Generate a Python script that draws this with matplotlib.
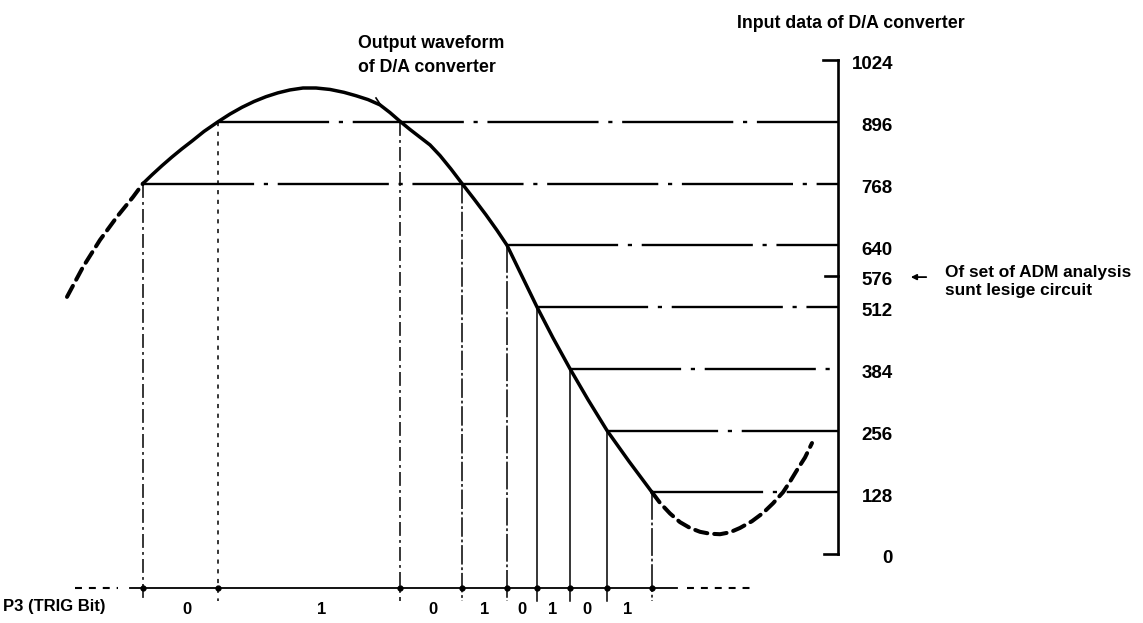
import numpy as np
import matplotlib.pyplot as plt

plt.rcParams['font.family'] = ['Liberation Sans', 'DejaVu Sans']
plt.rcParams['font.weight'] = 'bold'
plt.rcParams['lines.scale_dashes'] = False

# --- data (time in arbitrary units, D/A input value 0..1024) ---
# solid output waveform of the D/A converter
curve_t = [143, 152, 162, 172, 182, 192, 204, 218, 230, 242, 254, 266, 278, 290,
           303, 316, 330, 344, 356, 368, 380, 390, 400, 410, 420, 430, 440,
           451, 462, 474, 486, 497, 507, 522, 537, 553, 570, 588, 607, 629, 652]
curve_v = [768, 786, 805, 823, 840, 856, 876, 896, 912, 926, 938, 948, 956, 962,
           966, 966, 963, 957, 950, 942, 931, 915, 897, 880, 864, 848, 826,
           798, 768, 736, 703, 671, 640, 576, 512, 448, 384, 320, 256, 192, 128]
# dashed continuation before and after
lead_t = [67, 83, 100, 117, 133, 143]
lead_v = [533, 595, 651, 699, 740, 768]
tail_t = [652, 660, 670, 680, 690, 700, 710, 720, 730, 740, 752, 763, 773, 783, 790, 797, 805, 812]
tail_v = [128, 106, 84, 66, 54, 46, 42, 41, 45, 54, 68, 85, 105, 128, 150, 174, 200, 230]

# levels where the waveform is sampled, and where each level line starts
levels = [896, 768, 640, 512, 384, 256, 128]
level_start = [218, 143, 507, 537, 570, 607, 652]

# sampling instants and the waveform value there
sample_t = [143, 218, 400, 462, 507, 537, 570, 607, 652]
sample_v = [768, 896, 896, 768, 640, 512, 384, 256, 128]

# P3 (TRIG bit) states between the instants
bits = ['0', '1', '0', '1', '0', '1', '0', '1']

tick_vals = [1024, 896, 768, 640, 576, 512, 384, 256, 128, 0]
offset_val = 576


def py2v(py):
    # layout helper: picture row -> value units
    return (554 - py) / 0.4824


fig = plt.figure(figsize=(11.43, 6.23), dpi=100)
ax = fig.add_axes([0, 0, 1, 1])
ax.set_xlim(0, 1143)
ax.set_ylim(py2v(623), py2v(0))
ax.axis('off')

axis_t = 838
base_v = py2v(588)
vbot = py2v(601)

# waveform
ax.plot(curve_t, curve_v, color='k', lw=2.5, solid_joinstyle='round', solid_capstyle='round')
ax.plot(lead_t, lead_v, color='k', lw=2.9, dashes=(9, 5), dash_capstyle='round')
ax.plot(tail_t, tail_v, color='k', lw=2.9, dashes=(9, 5), dash_capstyle='round')

# level lines (dash-dot) up to the value axis
for lv, st in zip(levels, level_start):
    ax.plot([st, axis_t], [lv, lv], color='k', lw=1.7, dashes=(80, 7, 3, 7))

# vertical lines from the sample points down to the bit axis
vstyles = [(0, (10, 3, 2, 3)), (0, (3, 4)), (0, (10, 3, 2, 3)), (0, (14, 2, 2, 2)),
           (0, (20, 2, 2, 2)), '-', '-', '-', (0, (20, 2, 2, 2))]
for t, v, ls in zip(sample_t, sample_v, vstyles):
    ax.plot([t, t], [v, vbot], color='k', lw=1.1, linestyle=ls)

# value axis with bracket ends
ax.plot([axis_t, axis_t], [0, 1024], color='k', lw=1.9)
ax.plot([axis_t - 15, axis_t], [1024, 1024], color='k', lw=1.9)
ax.plot([axis_t - 14, axis_t], [0, 0], color='k', lw=1.9)
ax.plot([axis_t - 13, axis_t], [offset_val, offset_val], color='k', lw=1.9)
for tv in tick_vals:
    ax.text(893, tv - 10, str(tv), ha='right', va='center', fontsize=13.5)

# bit axis
ax.plot([130, 677], [base_v, base_v], color='k', lw=1.3)
ax.plot([75, 118], [base_v, base_v], color='k', lw=1.5, dashes=(5, 5))
ax.plot([687, 750], [base_v, base_v], color='k', lw=1.5, dashes=(5, 5))
ax.plot(sample_t, [base_v] * len(sample_t), 'o', color='k', ms=3.5)
bit_x = [187, 322, 433, 485, 522, 553, 587, 628]
for bx, b in zip(bit_x, bits):
    ax.text(bx, py2v(609), b, ha='center', va='center', fontsize=12)
ax.text(3, py2v(606), 'P3 (TRIG Bit)', ha='left', va='center', fontsize=12)

# annotations
ax.text(358, py2v(43), 'Output waveform', ha='left', va='center', fontsize=12.8)
ax.text(358, py2v(67), 'of D/A converter', ha='left', va='center', fontsize=12.8)
ax.plot([376, 380], [py2v(98), py2v(104)], color='k', lw=1.2)
ax.text(737, py2v(23), 'Input data of D/A converter', ha='left', va='center', fontsize=12.8)
ax.annotate('', xy=(908, offset_val - 2), xytext=(929, offset_val - 2),
            arrowprops=dict(arrowstyle='-|>', color='k', lw=1.3, mutation_scale=8))
ax.text(945, py2v(272), 'Of set of ADM analysis', ha='left', va='center', fontsize=12.4)
ax.text(945, py2v(291), 'sunt lesige circuit', ha='left', va='center', fontsize=12.4)

plt.savefig('out.png', dpi=100)
plt.close()
